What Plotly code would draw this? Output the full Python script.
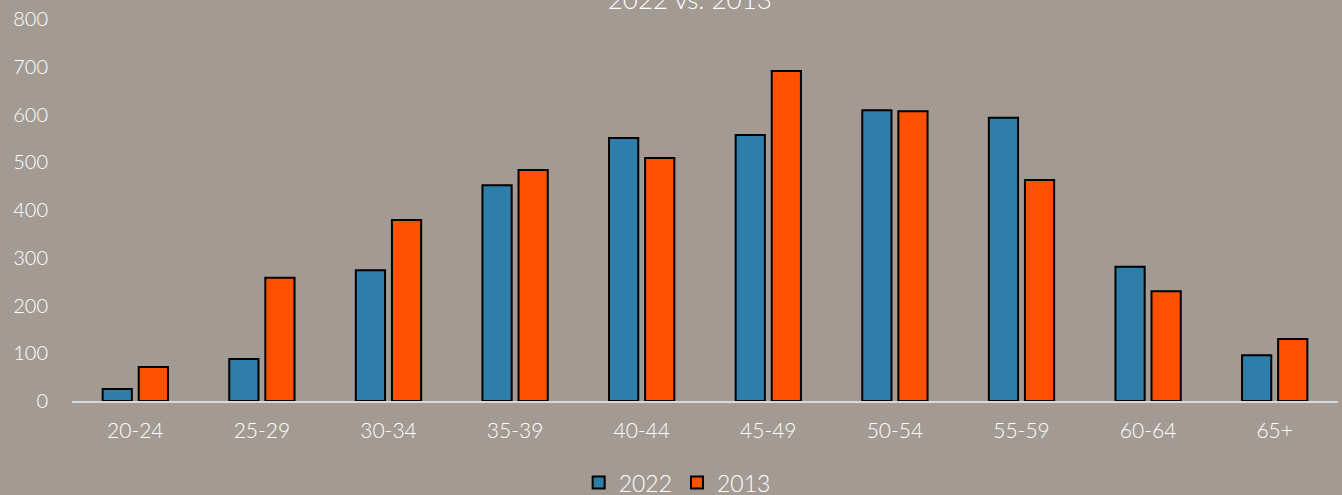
import plotly.graph_objects as go

categories = ["20-24", "25-29", "30-34", "35-39", "40-44", "45-49", "50-54", "55-59", "60-64", "65+"]
values_2022 = [25, 88, 274, 452, 551, 557, 609, 593, 281, 96]
values_2013 = [71, 258, 379, 484, 509, 691, 607, 463, 230, 130]

bg = "#A39B93"
font_family = "Lato, 'Noto Sans', sans-serif"

fig = go.Figure()
fig.add_trace(go.Bar(x=categories, y=values_2022, name="2022",
                     marker=dict(color="#2E7EAB", line=dict(color="black", width=2))))
fig.add_trace(go.Bar(x=categories, y=values_2013, name="2013",
                     marker=dict(color="#FF5000", line=dict(color="black", width=2))))

fig.update_layout(
    width=1342, height=495,
    paper_bgcolor=bg, plot_bgcolor=bg,
    margin=dict(l=72, r=4, t=19, b=94),
    barmode="group", bargap=0.43, bargroupgap=0.19,
    font=dict(family=font_family, color="white", size=20, weight=300),
    title=dict(text="2022 vs. 2013", x=0.514, xanchor="center", y=1.0, yanchor="middle",
               font=dict(size=26, color="white", family=font_family, weight=300)),
    legend=dict(orientation="h", x=0.478, xanchor="center", y=0.025, yanchor="middle",
                yref="container",
                font=dict(size=23, color="white", weight=300), bgcolor="rgba(0,0,0,0)",
                itemwidth=30, traceorder="normal"),
    xaxis=dict(showgrid=False, showline=True, linecolor="#D9D9D9", linewidth=2,
               ticks="", tickfont=dict(size=21, color="white", weight=300),
               ticklabelstandoff=10),
    yaxis=dict(range=[0, 800], dtick=100, showgrid=False, zeroline=False, showline=False,
               ticks="", tickfont=dict(size=20, color="white", weight=300), ticklabelstandoff=23),
)

fig.write_html("out.html", config={"displayModeBar": False},
               post_script="document.body.style.margin='0';document.body.style.padding='0';")
